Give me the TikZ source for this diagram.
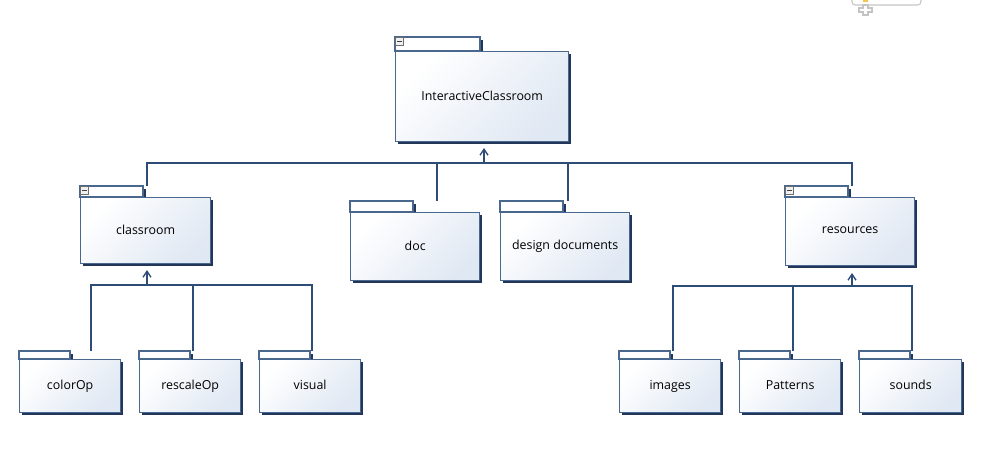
\documentclass[tikz,border=0pt]{standalone}
\usepackage{fontspec}
\setmainfont{Open Sans}
\usetikzlibrary{arrows.meta}
\definecolor{pkgline}{HTML}{4A678E}
\definecolor{pkgshadow}{HTML}{22365A}
\definecolor{pkgfill}{HTML}{E0E8F3}
\definecolor{connclr}{HTML}{2E4D76}
\definecolor{iconclr}{HTML}{6E6E6E}
\definecolor{uigray}{HTML}{C4C4C4}
\definecolor{uiyellow}{HTML}{F2C94C}
\tikzset{
  pkgbody/.style={draw=pkgline, line width=1pt, inner sep=0pt,
    top color=white, bottom color=pkgfill, shading angle=45,
    font=\fontsize{9.3}{11}\selectfont, text=black},
  pkgtab/.style={draw=pkgline, line width=1pt, fill=white},
  connline/.style={draw=connclr, line width=1pt},
  connarrow/.style={connline, -{Straight Barb[length=4.5pt,width=6pt,line width=1pt]}},
}
% name, x, y (body top-left), w, h, tab width, tab height, text
\newcommand\pkgbox[8]{%
  \fill[pkgshadow] (#2+2.5,#3+2.5) rectangle (#2+#4+2.5,#3+#5+2.5);
  \fill[pkgshadow] (#2+2.5,#3-#7+2.5) rectangle (#2+#6+2.5,#3);
  \draw[pkgtab] (#2,#3-#7) rectangle (#2+#6,#3);
  \node[pkgbody, anchor=north west, minimum width=#4*0.75pt, minimum height=#5*0.75pt] (#1) at (#2,#3) {\raisebox{2pt}{#8}};
}
\newcommand\minusicon[2]{%
  \draw[iconclr, line width=0.6pt, fill=black!6] (#1+0.5,#2+0.5) rectangle (#1+8,#2+8);
  \draw[black!75, line width=1pt] (#1+2,#2+4.3) -- (#1+6.5,#2+4.3);
}
\begin{document}
\begin{tikzpicture}[x=0.75pt, y=-0.75pt]
\useasboundingbox (0,0) rectangle (983,457);

% UI artifact top right
\draw[uigray, line width=0.8pt, rounded corners=2.5pt] (852,-6) -- (852,5) -- (921,5) -- (921,-6);
\fill[uiyellow] (863,-1) rectangle (868,1.5);
\draw[uigray, line width=0.8pt] (863,5) -- (868,5) -- (868,8) -- (872,8) -- (872,12) -- (868,12) -- (868,15) -- (863,15) -- (863,12) -- (859,12) -- (859,8) -- (863,8) -- cycle;

% packages
\pkgbox{ic}{395}{51}{173}{90}{85}{14}{InteractiveClassroom}
\minusicon{395}{37}
\pkgbox{classroom}{80}{197}{130}{66}{63}{11}{classroom}
\minusicon{80}{186}
\pkgbox{doc}{350}{212}{129}{68}{63}{11}{doc}
\pkgbox{design}{500}{212}{129}{68}{63}{11}{design documents}
\pkgbox{resources}{785}{197}{129}{68}{63}{11}{resources}
\minusicon{785}{186}
\pkgbox{colorop}{19}{359}{101}{53}{51}{8}{colorOp}
\pkgbox{rescaleop}{139}{359}{101}{53}{51}{8}{rescaleOp}
\pkgbox{visual}{259}{359}{101}{53}{51}{8}{visual}
\pkgbox{images}{619}{359}{101}{53}{51}{8}{images}
\pkgbox{patterns}{739}{359}{101}{53}{51}{8}{Patterns}
\pkgbox{sounds}{859}{359}{102}{53}{51}{8}{sounds}

% attachment points
\coordinate (ic-a) at (484,148);
\coordinate (classroom-c) at (147,186);
\coordinate (doc-c) at (437,201);
\coordinate (design-c) at (568,201);
\coordinate (resources-c) at (852,186);
\coordinate (classroom-a) at (147,270);
\coordinate (resources-a) at (852,273);
\coordinate (colorop-c) at (91,351);
\coordinate (rescaleop-c) at (193,351);
\coordinate (visual-c) at (312,351);
\coordinate (images-c) at (673,351);
\coordinate (patterns-c) at (793,351);
\coordinate (sounds-c) at (912,351);
\coordinate (bus1) at (0,163);
\coordinate (bus2) at (0,285);
\coordinate (bus3) at (0,286);

% top level connectors
\draw[connline] (classroom-c) -- (classroom-c |- bus1) -- (resources-c |- bus1) -- (resources-c);
\draw[connline] (doc-c) -- (doc-c |- bus1);
\draw[connline] (design-c) -- (design-c |- bus1);
\draw[connarrow] (ic-a |- bus1) -- (ic-a);

% classroom connectors
\draw[connline] (colorop-c) -- (colorop-c |- bus2) -- (visual-c |- bus2) -- (visual-c);
\draw[connline] (rescaleop-c) -- (rescaleop-c |- bus2);
\draw[connarrow] (classroom-a |- bus2) -- (classroom-a);

% resources connectors
\draw[connline] (images-c) -- (images-c |- bus3) -- (sounds-c |- bus3) -- (sounds-c);
\draw[connline] (patterns-c) -- (patterns-c |- bus3);
\draw[connarrow] (resources-a |- bus3) -- (resources-a);
\end{tikzpicture}
\end{document}
